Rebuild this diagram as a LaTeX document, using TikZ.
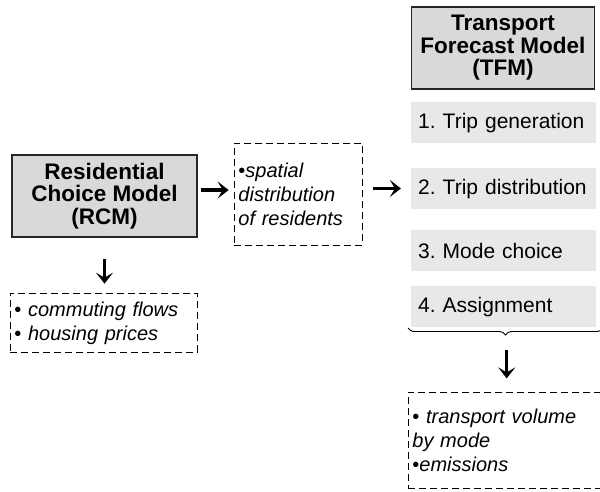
\documentclass[tikz,border=0pt]{standalone}
\usepackage{fontspec}
\setmainfont{Liberation Sans}
\usetikzlibrary{positioning,arrows.meta,decorations.pathreplacing}
\definecolor{modelgray}{HTML}{D9D9D9}
\definecolor{stepgray}{HTML}{E8E8E8}
\frenchspacing

\begin{document}
\begin{tikzpicture}[x=1pt,y=-1pt,
  model/.style={draw=black!85,line width=1.3pt,fill=modelgray,minimum width=185pt,minimum height=82pt,align=center,font=\fontsize{22.5}{22.5}\selectfont\bfseries},
  stepbox/.style={fill=stepgray,anchor=north west,minimum height=41pt,text width=171pt,inner xsep=7pt,align=left,font=\fontsize{21}{23}\selectfont},
  note/.style={draw,dashed,line width=0.9pt,dash pattern=on 7pt off 4pt,anchor=north west,align=left,inner xsep=4pt,font=\fontsize{20}{24}\selectfont\itshape},
  arr/.style={-{Stealth[length=11pt,width=17pt,inset=5pt]},line width=3.4pt}
]
\clip (0,0) rectangle (600,491);

% models
\node[model] (rcm) at (104.5,196) {Residential\\Choice Model\\(RCM)};
\node[model,minimum width=183pt] (tfm) at (503,48) {Transport\\Forecast Model\\(TFM)};

% TFM steps
\node[stepbox] (step1) at (411,102) {1. Trip generation};
\node[stepbox] (step2) at (411,168) {2. Trip distribution};
\node[stepbox] (step3) at (411,230) {3. Mode choice};
\node[stepbox] (step4) at (411,286) {4. Assignment};

% dashed outputs
\node[note,text width=120pt,minimum height=102pt] (spatial) at (234,143) {\upshape•\itshape spatial\\distribution\\of residents};
\node[note,text width=179pt,minimum height=59pt] (commute) at (10,293) {\upshape• \itshape commuting flows\\\upshape• \itshape housing prices};
\node[note,text width=200pt,minimum height=96pt] (volume) at (408,392) {\upshape• \itshape transport volume\\by mode\\\upshape•\itshape emissions};

\coordinate (bl) at (408,328);
\coordinate (br) at (603,328);
\draw[line width=0.9pt,decorate,decoration={brace,mirror,amplitude=7pt}] (bl) -- (br);

\draw[arr] (rcm.east) ++(3,-6) -- ++(28,0);
\draw[arr] (spatial.east) ++(10,-6) -- ++(28,0);
\draw[arr] (rcm.south) ++(0,21) -- ++(0,25);
\draw[arr] (step4.south) ++(3,23) -- ++(0,28);
\end{tikzpicture}
\end{document}
